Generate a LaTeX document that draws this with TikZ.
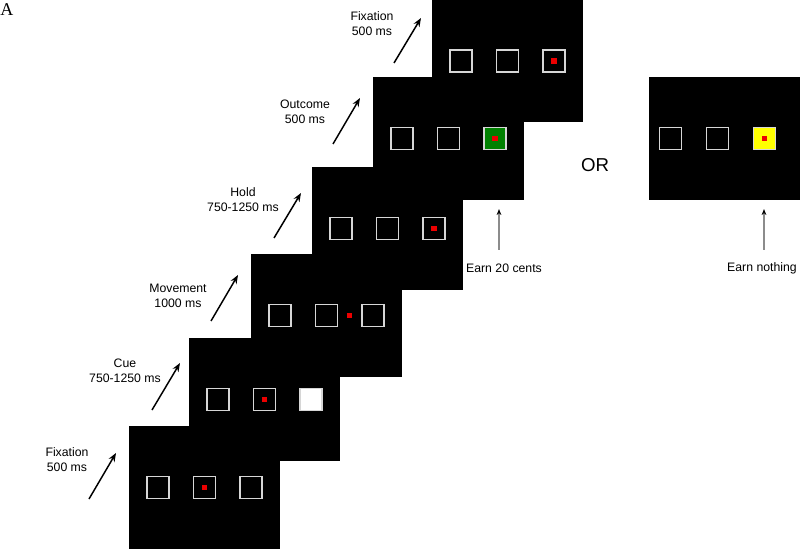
\documentclass[tikz,border=0pt]{standalone}
\usepackage{fontspec}
\setmainfont{Liberation Sans}
\newfontfamily\panelfont{Liberation Serif}
\usetikzlibrary{arrows.meta,positioning,calc}
\definecolor{slotgray}{RGB}{214,214,214}
\definecolor{dotred}{RGB}{236,0,0}
\definecolor{wingreen}{RGB}{0,128,0}
\definecolor{nilyellow}{RGB}{255,255,0}
\definecolor{cuegray}{RGB}{140,140,140}

\begin{document}
\begin{tikzpicture}[x=0.75pt,y=-0.75pt,
    screen/.style={fill=black,inner sep=0pt,minimum width=113.25pt,minimum height=92.25pt},
    slot/.style={draw=slotgray,line width=1.1pt,inner sep=0pt,minimum size=16.4pt},
    dot/.style={fill=dotred,inner sep=0pt,minimum size=4pt},
    lbl/.style={align=center,font=\fontsize{9.2}{11.2}\selectfont},
    tick/.style={-{Stealth[length=6.5pt,width=5pt]},line width=1.1pt},
    earn/.style={draw=cuegray,line width=1pt,-{Stealth[black,length=4.5pt,width=3.5pt]}}]
   \useasboundingbox (0,0) rectangle (800,549);
   % screens of the trial, bottom to top
   \foreach \n/\cx/\cy in {1/204.5/487.5,2/264.5/399.5,3/326.5/315.5,4/387.5/228.5,5/448.5/138.5,6/507.5/61}{
      \node[screen] (scr\n) at (\cx,\cy) {};
      \node[slot] (scr\n-l) at ($(scr\n)+(-46.5,0)$) {};
      \node[slot] (scr\n-m) at (scr\n) {};
      \node[slot] (scr\n-r) at ($(scr\n)+(46.5,0)$) {};
   }
   \node[screen] (alt) at (724.5,138.5) {};
   \node[slot] (alt-l) at ($(alt)+(-54,0)$) {};
   \node[slot] (alt-m) at ($(alt)+(-7,0)$) {};
   \node[slot,fill=nilyellow] (alt-r) at ($(alt)+(40,0)$) {};
   % contents
   \node[slot,fill=white] at (scr2-r) {};
   \node[slot,fill=wingreen] at (scr5-r) {};
   \node[dot] (d1) at (scr1-m) {};
   \node[dot] (d2) at (scr2-m) {};
   \node[dot] (d3) at ($(scr3-m)!0.5!(scr3-r)$) {};
   \node[dot] (d4) at (scr4-r) {};
   \node[dot] (d5) at (scr5-r) {};
   \node[dot] (d6) at (scr6-r) {};
   \node[dot] (d7) at (alt-r) {};
   % phase labels and arrows
   \node[lbl] (fix1) at (67,460) {Fixation\\500 ms};
   \node[lbl] (cue) at (125,370.5) {Cue\\750-1250 ms};
   \node[lbl] (move) at (178,295.5) {Movement\\1000 ms};
   \node[lbl] (hold) at (243,199.5) {Hold\\750-1250 ms};
   \node[lbl] (outc) at (305,111.5) {Outcome\\500 ms};
   \node[lbl] (fix2) at (372,23.5) {Fixation\\500 ms};
   \foreach \n/\ax/\ay/\bx/\by in {1/89/499/116/453,2/152/410/180/363,3/211/321/238/275,4/274/238/301/193,5/333/144/360/98,6/394/63/421/18}{
      \coordinate (a\n) at (\ax,\ay);
      \coordinate (b\n) at (\bx,\by);
      \draw[tick] (a\n) -- (b\n);
   }
   % outcomes
   \node[font=\fontsize{14}{16}\selectfont] (or) at (595,165) {OR};
   \node[lbl] (win) at (504,268) {Earn 20 cents};
   \node[lbl] (none) at (762,268) {Earn nothing};
   \coordinate (win-lo) at (499,250);
   \coordinate (win-up) at (499,209);
   \coordinate (none-lo) at (764,250);
   \coordinate (none-up) at (764,209);
   \draw[earn] (win-lo) -- (win-up);
   \draw[earn] (none-lo) -- (none-up);
   \node[anchor=west,inner sep=0pt,font=\panelfont\fontsize{13.5}{15}\selectfont] (panel) at (0,10) {A};
\end{tikzpicture}
\end{document}
